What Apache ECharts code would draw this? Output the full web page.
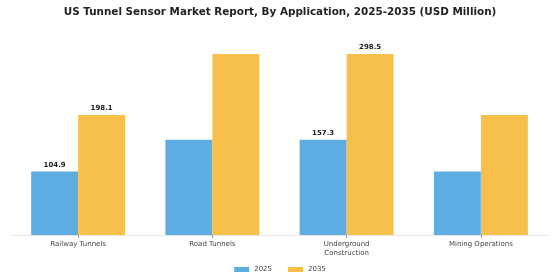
<!DOCTYPE html>
<html><head><meta charset="utf-8">
<script src="https://cdn.jsdelivr.net/npm/echarts@6/dist/echarts.min.js"></script>
<style>html,body{margin:0;padding:0;background:#fff}#c{width:560px;height:280px}</style>
</head><body><div id="c"></div>
<script>
const categories = ['Railway Tunnels', 'Road Tunnels', 'Underground\nConstruction', 'Mining Operations'];
const values2025 = [104.9, 157.3, 157.3, 104.9];
const values2035 = [198.1, 298.5, 298.5, 198.1];
const labelled = [true, false, true, false];
const seriesNames = ['2025', '2035'];

function withLabels(arr) {
  return arr.map((v, i) => ({ value: v, label: { show: labelled[i] } }));
}
const chart = echarts.init(document.getElementById('c'), null, { renderer: 'canvas' });
const labelStyle = { position: 'top', distance: 3, fontFamily: 'DejaVu Sans', fontWeight: 'bold', fontSize: 7, color: '#222', formatter: p => p.value.toFixed(1) };
chart.setOption({
  animation: false,
  title: { text: 'US Tunnel Sensor Market Report, By Application, 2025-2035 (USD Million)', left: 'center', top: 2,
    textStyle: { fontFamily: 'DejaVu Sans', fontWeight: 'bold', fontSize: 10.4, color: '#222' } },
  grid: { left: 11, right: 12, top: 41, bottom: 45 },
  legend: { bottom: 2, left: 'center', itemWidth: 15, itemHeight: 5, itemGap: 16, icon: 'rect',
    textStyle: { fontFamily: 'DejaVu Sans', fontSize: 7, color: '#444' }, data: seriesNames },
  xAxis: { type: 'category', data: categories,
    axisLine: { lineStyle: { color: '#e6e6e6', width: 1 } },
    axisTick: { show: true, alignWithLabel: true, length: 3, lineStyle: { color: '#999' } },
    axisLabel: { fontFamily: 'DejaVu Sans', fontSize: 7, color: '#444', margin: 5, lineHeight: 8.5 } },
  yAxis: { type: 'value', min: 0, max: 320, show: false, splitLine: { show: false } },
  series: [
    { name: seriesNames[0], type: 'bar', data: withLabels(values2025), barGap: '0%', barCategoryGap: '30%',
      itemStyle: { color: '#5DADE2' }, label: labelStyle },
    { name: seriesNames[1], type: 'bar', data: withLabels(values2035), barGap: '0%', barCategoryGap: '30%',
      itemStyle: { color: '#F7C04A' }, label: labelStyle }
  ]
});
</script></body></html>
